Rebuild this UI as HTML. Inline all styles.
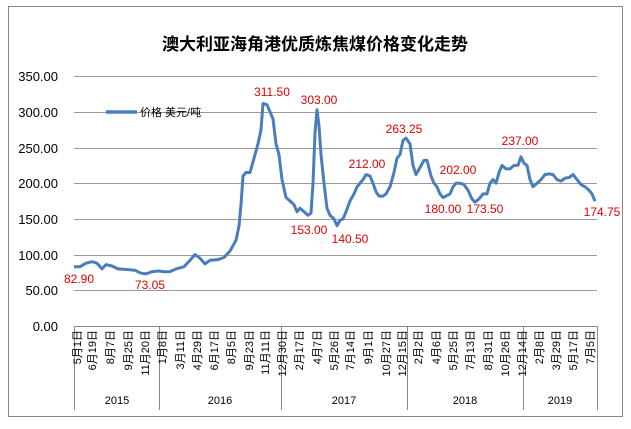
<!DOCTYPE html>
<html><head><meta charset="utf-8"><style>
body{margin:0;background:#fff;}
svg text{font-family:"Liberation Sans","Noto Sans CJK SC",sans-serif;}
</style></head><body>
<svg width="631" height="424" viewBox="0 0 631 424" xmlns="http://www.w3.org/2000/svg">
<rect x="0" y="0" width="631" height="424" fill="#fff"/>
<rect x="8.5" y="6.5" width="614" height="410" fill="none" stroke="#888" stroke-width="1"/>
<text x="315" y="50" text-anchor="middle" font-size="17" font-weight="bold" fill="#000">澳大利亚海角港优质炼焦煤价格变化走势</text>
<g stroke="#9a9a9a" stroke-width="1">
<line x1="74" y1="76.5" x2="597" y2="76.5"/><line x1="74" y1="112.5" x2="597" y2="112.5"/>
<line x1="74" y1="148.5" x2="597" y2="148.5"/><line x1="74" y1="183.5" x2="597" y2="183.5"/>
<line x1="74" y1="219.5" x2="597" y2="219.5"/><line x1="74" y1="255.5" x2="597" y2="255.5"/>
<line x1="74" y1="290.5" x2="597" y2="290.5"/>
</g>
<line x1="74" y1="326.5" x2="597" y2="326.5" stroke="#888"/>
<g stroke="#888"><line x1="74.5" y1="326" x2="74.5" y2="410"/><line x1="159.5" y1="326" x2="159.5" y2="410"/><line x1="281.5" y1="326" x2="281.5" y2="410"/><line x1="407.5" y1="326" x2="407.5" y2="410"/><line x1="523.5" y1="326" x2="523.5" y2="410"/><line x1="597.5" y1="326" x2="597.5" y2="410"/></g>
<g font-size="13" fill="#000" text-anchor="end">
<text x="58" y="81">350.00</text><text x="58" y="117">300.00</text><text x="58" y="153">250.00</text><text x="58" y="188">200.00</text><text x="58" y="224">150.00</text><text x="58" y="260">100.00</text><text x="58" y="295">50.00</text><text x="58" y="331">0.00</text>
</g>
<g font-size="11" fill="#000" text-anchor="end">
<text transform="translate(81,330) rotate(-90)">5月1日</text>
<text transform="translate(96,330) rotate(-90)">6月19日</text>
<text transform="translate(114,330) rotate(-90)">8月7日</text>
<text transform="translate(132,330) rotate(-90)">9月25日</text>
<text transform="translate(149,330) rotate(-90)">11月20日</text>
<text transform="translate(166,330) rotate(-90)">1月8日</text>
<text transform="translate(184,330) rotate(-90)">3月11日</text>
<text transform="translate(201,330) rotate(-90)">4月29日</text>
<text transform="translate(218,330) rotate(-90)">6月17日</text>
<text transform="translate(235,330) rotate(-90)">8月5日</text>
<text transform="translate(253,330) rotate(-90)">9月23日</text>
<text transform="translate(269,330) rotate(-90)">11月11日</text>
<text transform="translate(286,330) rotate(-90)">12月30日</text>
<text transform="translate(303,330) rotate(-90)">2月17日</text>
<text transform="translate(321,330) rotate(-90)">4月7日</text>
<text transform="translate(338,330) rotate(-90)">5月26日</text>
<text transform="translate(354,330) rotate(-90)">7月14日</text>
<text transform="translate(372,330) rotate(-90)">9月1日</text>
<text transform="translate(390,330) rotate(-90)">10月27日</text>
<text transform="translate(406,330) rotate(-90)">12月15日</text>
<text transform="translate(422,330) rotate(-90)">2月2日</text>
<text transform="translate(440,330) rotate(-90)">4月6日</text>
<text transform="translate(457,330) rotate(-90)">5月25日</text>
<text transform="translate(474,330) rotate(-90)">7月13日</text>
<text transform="translate(492,330) rotate(-90)">8月31日</text>
<text transform="translate(509,330) rotate(-90)">10月26日</text>
<text transform="translate(526,330) rotate(-90)">12月14日</text>
<text transform="translate(543,330) rotate(-90)">2月8日</text>
<text transform="translate(560,330) rotate(-90)">3月29日</text>
<text transform="translate(577,330) rotate(-90)">5月17日</text>
<text transform="translate(594,330) rotate(-90)">7月5日</text>
</g>
<g font-size="11" fill="#000" text-anchor="middle">
<text x="117" y="404">2015</text><text x="220" y="404">2016</text><text x="344" y="404">2017</text><text x="465" y="404">2018</text><text x="560" y="404">2019</text>
</g>
<line x1="106" y1="112" x2="137" y2="112" stroke="#4a7ebb" stroke-width="3.5"/>
<text x="140" y="116" font-size="11" fill="#000">价格 美元/吨</text>
<polyline fill="none" stroke="#4a7ebb" stroke-width="3" stroke-linejoin="round" points="74,266.8 80,266.7 86,263.2 92,261.7 97,263.2 102,268.9 106,264.6 112,266 118,268.9 128,269.6 135,270.3 141,273.2 146,273.9 152,271.7 158,271 164,271.7 170,271.7 176,268.9 184,266.7 190,260.3 195,254.6 200,258.2 205,263.9 210,260.3 218,259.6 224,257.5 230,251 236,240.3 239,226 241,204.6 243,176 246,172.5 250,172.5 254,158.2 258,143.9 261,129.7 263,103.6 267,104.7 270,111.8 273,118.9 276,143.9 279,154.6 282,179.6 286,197.5 290,201 294,204.6 297,211.8 300,208.2 304,211.8 308,215.3 311,213.2 313,183.2 315,133.2 317,109.7 319,126 321,154.6 324,183.2 327,208.2 330,215.3 334,218.9 337,225.7 340,220.3 343,218.9 346,211.8 350,201 354,193.9 357,186.8 360,183.2 363,179.6 366,174.6 370,176 373,183.2 376,191.8 379,196.1 383,196.1 386,193.9 390,186.8 394,172.5 397,158.2 400,154.6 403,140.4 406,138.1 410,143.9 413,165.4 416,174.6 420,167.5 424,160.4 427,160.4 431,176 434,183.2 437,186.8 440,193.9 443,197.5 446,196.1 450,193.9 453,186.8 456,183.2 460,183.2 464,184.6 468,190.3 472,198.9 475,202.1 479,198.9 483,193.9 487,193.9 490,183.2 493,179.6 496,183.2 499,172.5 502,165.4 506,168.9 510,168.9 514,165.4 518,165.4 521,156.8 524,163.2 527,165.4 530,179.6 533,186.8 537,183.2 541,179.6 545,174.6 549,173.9 553,174.6 557,179.6 561,181.1 565,178.2 569,177.5 573,174.6 577,179.6 581,184.6 585,186.8 589,190.3 592,193.9 595,201.2"/>
<g font-size="12" fill="#e00000" text-anchor="middle">
<text x="79" y="283">82.90</text><text x="150" y="289">73.05</text><text x="272" y="96">311.50</text><text x="319" y="104">303.00</text>
<text x="309" y="234">153.00</text><text x="350" y="243">140.50</text><text x="367" y="168">212.00</text><text x="404" y="133">263.25</text>
<text x="443" y="213">180.00</text><text x="458" y="174">202.00</text><text x="485" y="213">173.50</text><text x="520" y="145">237.00</text>
<text x="602" y="216">174.75</text>
</g>
</svg>
</body></html>
